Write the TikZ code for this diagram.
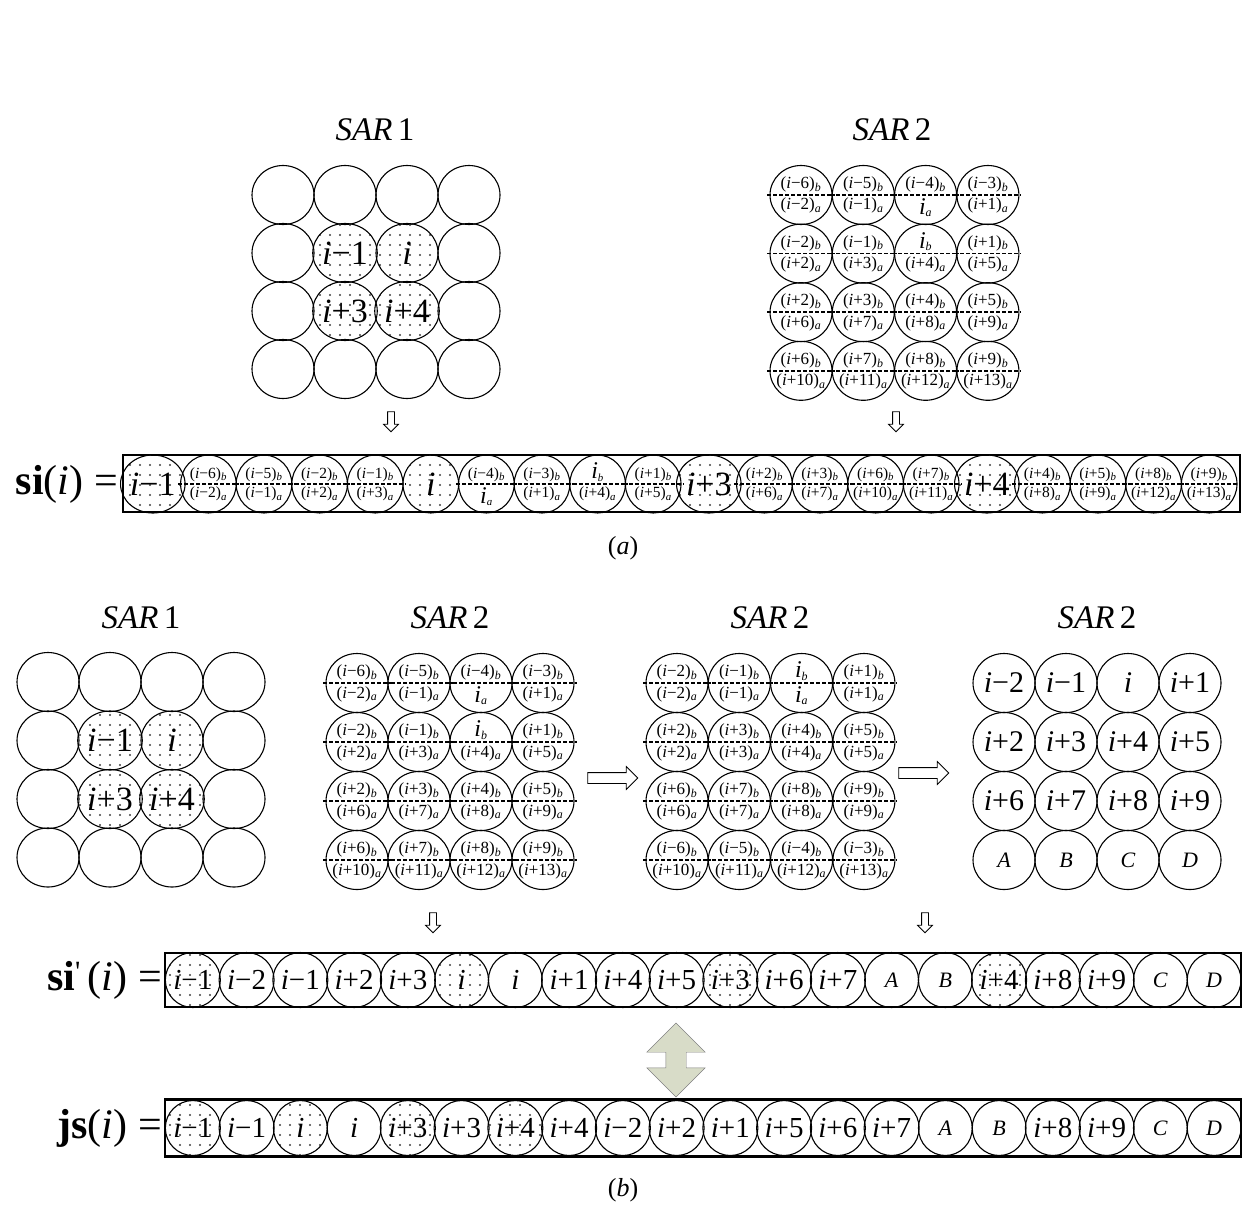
\documentclass[tikz,border=0pt]{standalone}
\usepackage{fontspec}
\setmainfont{Liberation Serif}
\usetikzlibrary{shapes.geometric,shapes.arrows,patterns.meta}
\definecolor{sage}{HTML}{D8DCC8}
\newcommand{\ii}{\textit{i}}
\newcommand{\sarlbl}[2]{(\ii#1)\textsubscript{\textit{#2}}}
\newcommand{\bigsub}[1]{{\fontsize{24}{24}\selectfont\ii}\textsubscript{\textit{#1}}}
\newcommand{\abc}[1]{{\fontsize{22}{22}\selectfont\textit{#1}}}
% cell cut in two by a dashed line: [style]{name}{x}{y}{upper}{lower}
\newcommand{\halfcell}[6][cell]{%
  \node[#1]at({#3},{#4})(#2){};
  \draw[halfline]([xshift=-2pt]#2.west)--([xshift=2pt]#2.east);
  \node[half,anchor=south]at([yshift=2.5pt]#2.center)(#2t){#5};
  \node[half,anchor=north]at([yshift=-3pt]#2.center)(#2b){#6};
}
\newcommand{\sartwolist}{1/1/{\sarlbl{−6}{b}}/{\sarlbl{−2}{a}},1/2/{\sarlbl{−5}{b}}/{\sarlbl{−1}{a}},
  1/3/{\sarlbl{−4}{b}}/{\bigsub{a}},1/4/{\sarlbl{−3}{b}}/{\sarlbl{+1}{a}},
  2/1/{\sarlbl{−2}{b}}/{\sarlbl{+2}{a}},2/2/{\sarlbl{−1}{b}}/{\sarlbl{+3}{a}},
  2/3/{\bigsub{b}}/{\sarlbl{+4}{a}},2/4/{\sarlbl{+1}{b}}/{\sarlbl{+5}{a}},
  3/1/{\sarlbl{+2}{b}}/{\sarlbl{+6}{a}},3/2/{\sarlbl{+3}{b}}/{\sarlbl{+7}{a}},
  3/3/{\sarlbl{+4}{b}}/{\sarlbl{+8}{a}},3/4/{\sarlbl{+5}{b}}/{\sarlbl{+9}{a}},
  4/1/{\sarlbl{+6}{b}}/{\sarlbl{+10}{a}},4/2/{\sarlbl{+7}{b}}/{\sarlbl{+11}{a}},
  4/3/{\sarlbl{+8}{b}}/{\sarlbl{+12}{a}},4/4/{\sarlbl{+9}{b}}/{\sarlbl{+13}{a}}}

\begin{document}
\begin{tikzpicture}[x=1pt,y=-1pt,
  cell/.style={ellipse,draw,line width=1.1pt,minimum width=62pt,minimum height=59pt,inner sep=0pt},
  rowcell/.style={cell,minimum width=55.6pt,minimum height=58pt},
  rowcellb/.style={cell,minimum width=53.8pt,minimum height=55pt},
  hot/.style={pattern={Dots[distance=10pt,radius=1.1pt]},pattern color=black!75},
  big/.style={font=\fontsize{34}{34}\selectfont},
  mid/.style={font=\fontsize{30}{30}\selectfont},
  midrow/.style={font=\fontsize{29}{29}\selectfont},
  half/.style={font=\fontsize{17}{17}\selectfont,inner sep=0pt},
  halfline/.style={line width=1.5pt,dash pattern=on 4pt off 2pt},
  sar/.style={font=\fontsize{33}{33}\selectfont},
  eqlbl/.style={font=\fontsize{42}{42}\selectfont,anchor=east,inner sep=0pt},
  captxt/.style={font=\fontsize{26}{26}\selectfont},
  frame/.style={draw,line width=2.4pt,inner sep=0pt},
  darr/.style={single arrow,draw,line width=0.8pt,shape border rotate=270,minimum height=20pt,
    single arrow head extend=4pt,inner sep=3pt},
  rarr/.style={single arrow,draw,line width=0.8pt,minimum height=50pt,
    single arrow head extend=6pt,inner sep=5pt}]
\useasboundingbox (0,0) rectangle (1246,1215);

%% (a)
\node[sar]at(375,130)(ta1){\textit{SAR}\,1};
\node[sar]at(892,130)(ta2){\textit{SAR}\,2};
\foreach\ro/\co in{1/1,1/2,1/3,1/4,2/1,2/4,3/1,3/4,4/1,4/2,4/3,4/4}{
  \node[cell]at({283+62*(\co-1)},{195+58*(\ro-1)})(pa\ro\co){};
}
\foreach\ro/\co/\txt in{2/2/{\ii−1},2/3/\ii,3/2/{\ii+3},3/3/{\ii+4}}{
  \node[cell,hot,big]at({283+62*(\co-1)},{195+58*(\ro-1)})(pa\ro\co){\txt};
}
\foreach\ro/\co/\tp/\bt in\sartwolist{
  \halfcell{qa\ro\co}{801+62.3*(\co-1)}{195+58.6*(\ro-1)}{\tp}{\bt}
}
\node[darr]at(391,420)(da1){};
\node[darr]at(896,420)(da2){};

\node[eqlbl]at(118,484)(silbl){\textbf{si}(\ii)\ =};
\node[frame,minimum width=1117pt,minimum height=57pt]at(681.5,483.5)(sirow){};
\foreach\k/\txt in{1/{\ii−1},6/\ii,11/{\ii+3},16/{\ii+4}}{
  \node[rowcell,hot,big]at({97.2+55.6*\k},484)(si\k){\txt};
}
\begin{scope}[half/.style={font=\fontsize{15.5}{15.5}\selectfont,inner sep=0pt}]
\foreach\k/\tp/\bt in{2/{\sarlbl{−6}{b}}/{\sarlbl{−2}{a}},3/{\sarlbl{−5}{b}}/{\sarlbl{−1}{a}},
  4/{\sarlbl{−2}{b}}/{\sarlbl{+2}{a}},5/{\sarlbl{−1}{b}}/{\sarlbl{+3}{a}},
  7/{\sarlbl{−4}{b}}/{\bigsub{a}},8/{\sarlbl{−3}{b}}/{\sarlbl{+1}{a}},
  9/{\bigsub{b}}/{\sarlbl{+4}{a}},10/{\sarlbl{+1}{b}}/{\sarlbl{+5}{a}},
  12/{\sarlbl{+2}{b}}/{\sarlbl{+6}{a}},13/{\sarlbl{+3}{b}}/{\sarlbl{+7}{a}},
  14/{\sarlbl{+6}{b}}/{\sarlbl{+10}{a}},15/{\sarlbl{+7}{b}}/{\sarlbl{+11}{a}},
  17/{\sarlbl{+4}{b}}/{\sarlbl{+8}{a}},18/{\sarlbl{+5}{b}}/{\sarlbl{+9}{a}},
  19/{\sarlbl{+8}{b}}/{\sarlbl{+12}{a}},20/{\sarlbl{+9}{b}}/{\sarlbl{+13}{a}}}{
  \halfcell[rowcell]{si\k}{97.2+55.6*\k}{484}{\tp}{\bt}
}
\end{scope}
\node[captxt]at(623,548)(capa){(\textit{a})};

%% (b)
\node[sar]at(141,618)(tb1){\textit{SAR}\,1};
\node[sar]at(450,618)(tb2){\textit{SAR}\,2};
\node[sar]at(770,618)(tb3){\textit{SAR}\,2};
\node[sar]at(1097,618)(tb4){\textit{SAR}\,2};
\foreach\ro/\co in{1/1,1/2,1/3,1/4,2/1,2/4,3/1,3/4,4/1,4/2,4/3,4/4}{
  \node[cell]at({48+62*(\co-1)},{682+58.5*(\ro-1)})(pb\ro\co){};
}
\foreach\ro/\co/\txt in{2/2/{\ii−1},2/3/\ii,3/2/{\ii+3},3/3/{\ii+4}}{
  \node[cell,hot,big]at({48+62*(\co-1)},{682+58.5*(\ro-1)})(pb\ro\co){\txt};
}
\foreach\ro/\co/\tp/\bt in\sartwolist{
  \halfcell{qb\ro\co}{357+62*(\co-1)}{683+59*(\ro-1)}{\tp}{\bt}
}
\foreach\ro/\co/\tp/\bt in{1/1/{\sarlbl{−2}{b}}/{\sarlbl{−2}{a}},1/2/{\sarlbl{−1}{b}}/{\sarlbl{−1}{a}},
  1/3/{\bigsub{b}}/{\bigsub{a}},1/4/{\sarlbl{+1}{b}}/{\sarlbl{+1}{a}},
  2/1/{\sarlbl{+2}{b}}/{\sarlbl{+2}{a}},2/2/{\sarlbl{+3}{b}}/{\sarlbl{+3}{a}},
  2/3/{\sarlbl{+4}{b}}/{\sarlbl{+4}{a}},2/4/{\sarlbl{+5}{b}}/{\sarlbl{+5}{a}},
  3/1/{\sarlbl{+6}{b}}/{\sarlbl{+6}{a}},3/2/{\sarlbl{+7}{b}}/{\sarlbl{+7}{a}},
  3/3/{\sarlbl{+8}{b}}/{\sarlbl{+8}{a}},3/4/{\sarlbl{+9}{b}}/{\sarlbl{+9}{a}},
  4/1/{\sarlbl{−6}{b}}/{\sarlbl{+10}{a}},4/2/{\sarlbl{−5}{b}}/{\sarlbl{+11}{a}},
  4/3/{\sarlbl{−4}{b}}/{\sarlbl{+12}{a}},4/4/{\sarlbl{−3}{b}}/{\sarlbl{+13}{a}}}{
  \halfcell{rb\ro\co}{677+62.3*(\co-1)}{683+59*(\ro-1)}{\tp}{\bt}
}
\foreach\ro/\co/\txt in{1/1/{\ii−2},1/2/{\ii−1},1/3/\ii,1/4/{\ii+1},
  2/1/{\ii+2},2/2/{\ii+3},2/3/{\ii+4},2/4/{\ii+5},
  3/1/{\ii+6},3/2/{\ii+7},3/3/{\ii+8},3/4/{\ii+9},
  4/1/{\abc A},4/2/{\abc B},4/3/{\abc C},4/4/{\abc D}}{
  \node[cell,mid]at({1004+62*(\co-1)},{683+59*(\ro-1)})(sb\ro\co){\txt};
}
\node[rarr]at(610,778)(ra1){};
\node[rarr]at(921,773)(ra2){};
\node[darr]at(433,921)(db1){};
\node[darr]at(925,921)(db2){};

\node[eqlbl]at(162,980)(splbl){\textbf{si}\textsuperscript{\textquotesingle}\,(\ii)\ =};
\node[frame,minimum width=1076pt,minimum height=54pt]at(703,980)(sprow){};
\foreach\k/\txt in{1/{\ii−1},6/\ii,11/{\ii+3},16/{\ii+4}}{
  \node[rowcellb,hot,midrow]at({139.1+53.75*\k},980)(sp\k){\txt};
}
\foreach\k/\txt in{2/{\ii−2},3/{\ii−1},4/{\ii+2},5/{\ii+3},7/\ii,8/{\ii+1},9/{\ii+4},10/{\ii+5},
  12/{\ii+6},13/{\ii+7},14/{\abc A},15/{\abc B},17/{\ii+8},18/{\ii+9},19/{\abc C},20/{\abc D}}{
  \node[rowcellb,midrow]at({139.1+53.75*\k},980)(sp\k){\txt};
}

\node[double arrow,draw=black!50,fill=sage,shape border rotate=90,minimum height=74pt,
  inner sep=10pt,double arrow head extend=19pt]at(676,1060)(swap){};

\node[eqlbl]at(162,1128)(jslbl){\textbf{js}(\ii)\ =};
\node[frame,minimum width=1076pt,minimum height=57pt]at(703,1128)(jsrow){};
\foreach\k/\txt in{1/{\ii−1},3/\ii,5/{\ii+3},7/{\ii+4}}{
  \node[rowcellb,hot,midrow]at({139.1+53.75*\k},1128)(js\k){\txt};
}
\foreach\k/\txt in{2/{\ii−1},4/\ii,6/{\ii+3},8/{\ii+4},9/{\ii−2},10/{\ii+2},11/{\ii+1},12/{\ii+5},
  13/{\ii+6},14/{\ii+7},15/{\abc A},16/{\abc B},17/{\ii+8},18/{\ii+9},19/{\abc C},20/{\abc D}}{
  \node[rowcellb,midrow]at({139.1+53.75*\k},1128)(js\k){\txt};
}
\node[captxt]at(623,1190)(capb){(\textit{b})};
\end{tikzpicture}
\end{document}
